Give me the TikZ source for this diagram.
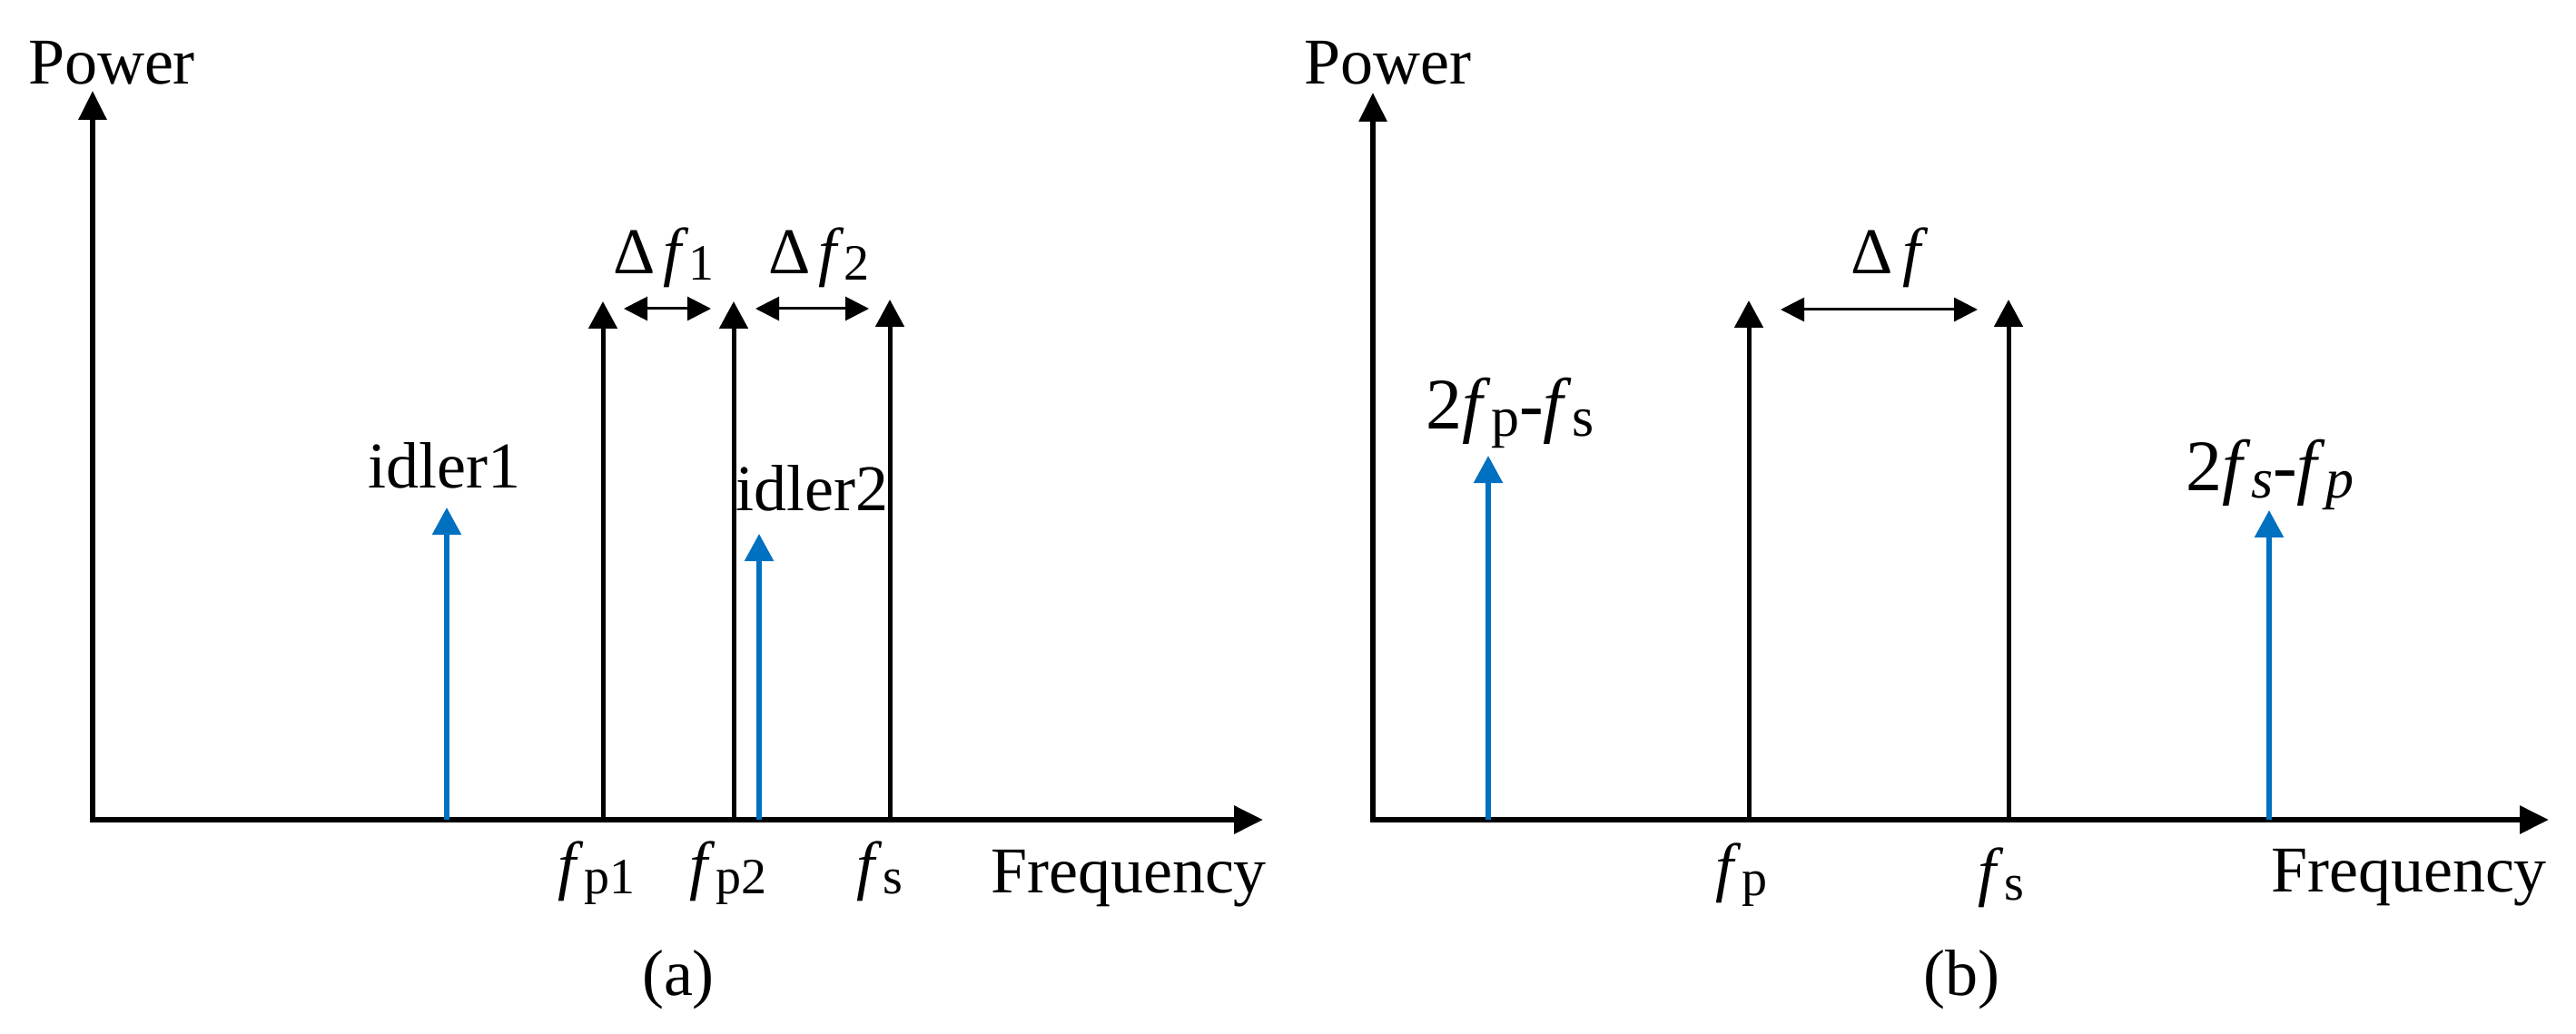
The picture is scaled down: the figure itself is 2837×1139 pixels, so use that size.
\documentclass[tikz,border=0pt]{standalone}
\usepackage{fontspec}
\setmainfont{Liberation Serif}
\usetikzlibrary{arrows.meta}
\definecolor{idblue}{RGB}{0,112,192}
\newcommand\sbs[1]{\raisebox{-7pt}{\fontsize{56}{60}\selectfont #1}}
\newcommand\sbl[1]{\raisebox{-8pt}{\fontsize{62}{66}\selectfont #1}}
\begin{document}
\begin{tikzpicture}[x=1pt,y=-1pt,
  axisline/.style={line width=6pt, {Triangle[length=32pt,width=30pt]}-{Triangle[length=32pt,width=30pt]}},
  specline/.style={line width=5pt, -{Triangle[length=30pt,width=31pt]}},
  idlerline/.style={specline, idblue, line width=5.5pt},
  deltaline/.style={line width=3pt, {Triangle[length=26pt,width=26pt]}-{Triangle[length=26pt,width=26pt]}},
  lbl/.style={inner sep=0pt, anchor=base, font=\fontsize{72}{80}\selectfont},
  biglbl/.style={inner sep=0pt, anchor=base, font=\fontsize{80}{88}\selectfont}]
\useasboundingbox (0,0) rectangle (2837,1139);
\fill[white] (0,0) rectangle (2837,1139);

% ---------- panel (a) ----------
\coordinate (Oa) at (102,903);
\coordinate (Xa) at (1391,903);
\coordinate (Ya) at (102,100);
\draw[axisline] (Xa) -- (Oa) -- (Ya);

\coordinate (i1b) at (492,903); \coordinate (i1t) at (492,559);
\coordinate (p1b) at (664,903); \coordinate (p1t) at (664,332);
\coordinate (p2b) at (808,903); \coordinate (p2t) at (808,332);
\coordinate (i2b) at (836,903); \coordinate (i2t) at (836,588);
\coordinate (sab) at (980,903); \coordinate (sat) at (980,330);
\draw[specline] (p1b) -- (p1t);
\draw[specline] (p2b) -- (p2t);
\draw[specline] (sab) -- (sat);
\draw[idlerline] (i1b) -- (i1t);
\draw[idlerline] (i2b) -- (i2t);

\coordinate (d1l) at (687,340); \coordinate (d1r) at (783,340);
\coordinate (d2l) at (832,340); \coordinate (d2r) at (957,340);
\draw[deltaline] (d1l) -- (d1r);
\draw[deltaline] (d2l) -- (d2r);

\node[lbl] (powa) at (123,93) {Power};
\node[lbl] (idl1) at (489,537) {idler1};
\node[lbl] (idl2) at (894,562) {idler2};
\node[lbl] (df1) at (731,302) {Δ\hspace{8pt}\textit{f}\sbs{1}};
\node[lbl] (df2) at (902,302) {Δ\hspace{8pt}\textit{f}\sbs{2}};
\node[lbl] (lp1) at (657,977) {\textit{f}\sbs{p1}};
\node[lbl] (lp2) at (802,977) {\textit{f}\sbs{p2}};
\node[lbl] (lsa) at (969,977) {\textit{f}\sbs{s}};
\node[lbl] (frqa) at (1243,983) {Frequency};
\node[lbl] (capa) at (747,1096) {(a)};

% ---------- panel (b) ----------
\coordinate (Ob) at (1512,903);
\coordinate (Xb) at (2807,903);
\coordinate (Yb) at (1512,102);
\draw[axisline] (Xb) -- (Ob) -- (Yb);

\coordinate (j1b) at (1639,903); \coordinate (j1t) at (1639,502);
\coordinate (pbb) at (1926,903); \coordinate (pbt) at (1926,331);
\coordinate (sbb) at (2212,903); \coordinate (sbt) at (2212,330);
\coordinate (j2b) at (2499,903); \coordinate (j2t) at (2499,562);
\draw[specline] (pbb) -- (pbt);
\draw[specline] (sbb) -- (sbt);
\draw[idlerline] (j1b) -- (j1t);
\draw[idlerline] (j2b) -- (j2t);

\coordinate (dl) at (1961,341); \coordinate (dr) at (2178,341);
\draw[deltaline] (dl) -- (dr);

\node[lbl] (powb) at (1528,93) {Power};
\node[lbl] (dfb) at (2081,302) {Δ\hspace{10pt}\textit{f}};
\node[biglbl] (mix1) at (1663,472) {2\textit{f}\sbl{p}-\textit{f}\sbl{s}};
\node[biglbl] (mix2) at (2500,540) {2\textit{f}\sbl{\textit{s}}-\textit{f}\sbl{\textit{p}}};
\node[lbl] (lpb) at (1918,979) {\textit{f}\sbs{p}};
\node[lbl] (lsb) at (2204,984) {\textit{f}\sbs{s}};
\node[lbl] (frqb) at (2653,982) {Frequency};
\node[lbl] (capb) at (2160,1096) {(b)};
\end{tikzpicture}
\end{document}
